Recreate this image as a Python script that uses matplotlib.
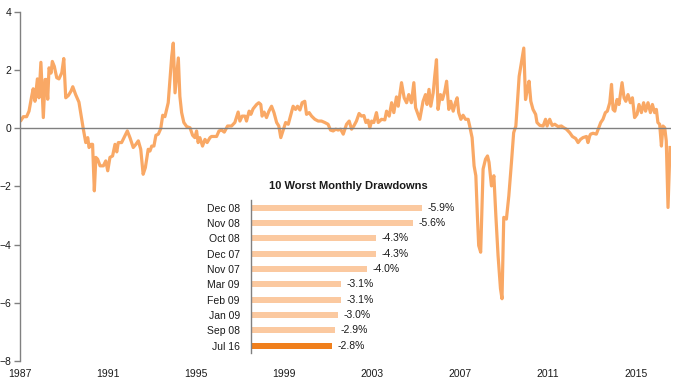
import matplotlib
matplotlib.use('Agg')
import matplotlib.pyplot as plt

plt.rcParams['font.family'] = ['Liberation Sans', 'DejaVu Sans']

# main series: decimal year, value
years = [
    1987.05, 1987.15, 1987.30, 1987.41, 1987.53, 1987.60, 1987.68, 1987.79, 1987.86, 1987.95,
    1988.06, 1988.14, 1988.20, 1988.26, 1988.32, 1988.41, 1988.47, 1988.56, 1988.67, 1988.77,
    1988.90, 1988.99, 1989.08, 1989.20, 1989.32, 1989.40, 1989.53, 1989.68, 1989.77, 1989.88,
    1989.99, 1990.08, 1990.14, 1990.23, 1990.30, 1990.38, 1990.45, 1990.53, 1990.64, 1990.79,
    1990.90, 1990.99, 1991.09, 1991.21, 1991.32, 1991.40, 1991.47, 1991.62, 1991.73, 1991.88,
    1992.00, 1992.15, 1992.27, 1992.38, 1992.49, 1992.60, 1992.70, 1992.83, 1992.91, 1992.99,
    1993.09, 1993.18, 1993.29, 1993.40, 1993.49, 1993.59, 1993.67, 1993.74, 1993.82, 1993.90,
    1993.97, 1994.05, 1994.12, 1994.20, 1994.27, 1994.35, 1994.45, 1994.58, 1994.73, 1994.85,
    1994.95, 1995.03, 1995.10, 1995.18, 1995.30, 1995.41, 1995.51, 1995.64, 1995.71, 1995.94,
    1996.05, 1996.17, 1996.29, 1996.44, 1996.62, 1996.77, 1996.92, 1997.00, 1997.10, 1997.23,
    1997.30, 1997.42, 1997.50, 1997.60, 1997.76, 1997.86, 1997.95, 1998.01, 1998.10, 1998.21,
    1998.32, 1998.44, 1998.55, 1998.67, 1998.77, 1998.86, 1998.97, 1999.08, 1999.20, 1999.32,
    1999.42, 1999.53, 1999.62, 1999.73, 1999.83, 1999.95, 2000.03, 2000.15, 2000.26, 2000.41,
    2000.56, 2000.71, 2000.86, 2001.01, 2001.12, 2001.24, 2001.36, 2001.47, 2001.58, 2001.70,
    2001.85, 2001.97, 2002.08, 2002.18, 2002.30, 2002.42, 2002.53, 2002.64, 2002.73, 2002.83,
    2002.91, 2002.99, 2003.09, 2003.21, 2003.29, 2003.44, 2003.59, 2003.67, 2003.79, 2003.90,
    2004.00, 2004.12, 2004.20, 2004.35, 2004.47, 2004.58, 2004.68, 2004.80, 2004.91, 2004.99,
    2005.10, 2005.18, 2005.33, 2005.44, 2005.51, 2005.60, 2005.68, 2005.79, 2005.86, 2005.94,
    2006.01, 2006.12, 2006.21, 2006.32, 2006.40, 2006.50, 2006.59, 2006.70, 2006.80, 2006.88,
    2006.95, 2007.05, 2007.15, 2007.26, 2007.38, 2007.45, 2007.56, 2007.65, 2007.73, 2007.80,
    2007.86, 2007.95, 2008.01, 2008.06, 2008.17, 2008.26, 2008.33, 2008.44, 2008.55, 2008.64,
    2008.74, 2008.85, 2008.92, 2009.00, 2009.12, 2009.23, 2009.35, 2009.45, 2009.55, 2009.60,
    2009.70, 2009.80, 2009.91, 2009.99, 2010.06, 2010.15, 2010.23, 2010.33, 2010.45, 2010.51,
    2010.64, 2010.79, 2010.90, 2010.97, 2011.09, 2011.20, 2011.32, 2011.47, 2011.62, 2011.73,
    2011.85, 2012.00, 2012.12, 2012.27, 2012.38, 2012.49, 2012.60, 2012.76, 2012.83, 2012.91,
    2012.95, 2013.06, 2013.21, 2013.32, 2013.41, 2013.51, 2013.62, 2013.71, 2013.82, 2013.90,
    2013.97, 2014.05, 2014.15, 2014.24, 2014.38, 2014.47, 2014.55, 2014.65, 2014.76, 2014.85,
    2014.95, 2015.06, 2015.15, 2015.26, 2015.36, 2015.45, 2015.56, 2015.67, 2015.76, 2015.86,
    2015.94, 2016.01, 2016.09, 2016.17, 2016.24, 2016.32, 2016.39, 2016.47, 2016.56,
]
values = [
    0.28, 0.40, 0.40, 0.59, 1.10, 1.36, 0.93, 1.70, 1.05, 2.27,
    0.37, 1.68, 1.68, 1.00, 2.08, 1.90, 2.30, 2.13, 1.74, 1.70,
    1.91, 2.40, 1.05, 1.13, 1.28, 1.43, 1.16, 0.90, 0.48, -0.03,
    -0.49, -0.32, -0.66, -0.55, -0.55, -2.15, -1.00, -1.06, -1.29, -1.29,
    -1.12, -1.46, -1.00, -0.95, -0.55, -0.81, -0.49, -0.49, -0.32, -0.09,
    -0.32, -0.66, -0.55, -0.43, -0.72, -1.58, -1.35, -0.72, -0.78, -0.61,
    -0.61, -0.24, -0.20, -0.01, 0.45, 0.40, 0.65, 0.88, 1.68, 2.48,
    2.93, 1.22, 1.79, 2.42, 1.10, 0.54, 0.20, 0.06, 0.02, -0.24,
    -0.32, -0.09, -0.49, -0.32, -0.61, -0.38, -0.49, -0.32, -0.28, -0.28,
    -0.09, -0.06, -0.13, 0.08, 0.08, 0.20, 0.56, 0.25, 0.42, 0.42,
    0.25, 0.59, 0.48, 0.67, 0.82, 0.88, 0.82, 0.42, 0.56, 0.37,
    0.59, 0.76, 0.54, 0.20, 0.08, -0.32, -0.06, 0.20, 0.14, 0.48,
    0.76, 0.65, 0.76, 0.63, 0.88, 0.93, 0.48, 0.54, 0.42, 0.31,
    0.25, 0.25, 0.20, 0.14, -0.06, -0.09, -0.03, -0.06, -0.03, -0.20,
    0.14, 0.25, -0.03, 0.08, 0.25, 0.51, 0.42, 0.44, 0.20, 0.28,
    0.02, 0.25, 0.20, 0.54, 0.20, 0.31, 0.29, 0.59, 0.42, 0.88,
    0.54, 1.08, 0.76, 1.57, 1.05, 0.88, 1.16, 0.88, 1.57, 0.71,
    0.48, 0.31, 0.93, 1.16, 0.82, 1.34, 0.76, 1.22, 1.79, 2.36,
    0.65, 1.16, 0.99, 1.28, 1.62, 0.65, 0.93, 0.59, 0.88, 1.05,
    0.54, 0.31, 0.45, 0.31, 0.31, 0.08, -0.32, -1.29, -1.63, -3.00,
    -4.03, -4.26, -2.66, -1.40, -1.06, -0.95, -1.17, -1.98, -1.63, -3.00,
    -4.37, -5.51, -5.86, -3.06, -3.12, -2.32, -1.17, -0.15, 0.08, 0.65,
    1.79, 2.25, 2.76, 0.99, 1.28, 1.62, 0.93, 0.65, 0.48, 0.20,
    0.10, 0.08, 0.31, 0.08, 0.31, 0.10, 0.14, 0.06, 0.08, 0.02,
    -0.03, -0.15, -0.28, -0.35, -0.49, -0.38, -0.32, -0.28, -0.49, -0.26,
    -0.20, -0.17, -0.20, 0.02, 0.20, 0.31, 0.54, 0.59, 0.88, 1.51,
    0.65, 0.59, 0.99, 0.82, 1.57, 1.05, 0.93, 1.16, 0.88, 1.05,
    0.37, 0.48, 0.82, 0.54, 0.88, 0.59, 0.88, 0.54, 0.82, 0.54,
    0.65, 0.20, 0.14, -0.61, 0.08, 0.02, -0.43, -2.72, -0.66,
]

year_ticks = [1987, 1991, 1995, 1999, 2003, 2007, 2011, 2015]

# inset: 10 worst monthly drawdowns
dd_labels = ['Dec 08', 'Nov 08', 'Oct 08', 'Dec 07', 'Nov 07',
             'Mar 09', 'Feb 09', 'Jan 09', 'Sep 08', 'Jul 16']
dd_values = [5.9, 5.6, 4.3, 4.3, 4.0, 3.1, 3.1, 3.0, 2.9, 2.8]

line_color = '#F9A865'
grey = '#808080'
text_color = '#1a1a1a'

fig = plt.figure(figsize=(6.83, 3.88), dpi=100)
ax = fig.add_axes([0.0293, 0.0696, 0.9536, 0.8995])

ax.plot(years, values, color=line_color, lw=2.3, solid_joinstyle='round')
ax.axhline(0, color=grey, lw=1)

ax.set_xlim(1987, 2016.62)
ax.set_ylim(-8, 4)
ax.set_yticks(range(-8, 5, 2))
ax.set_xticks(year_ticks)
ax.set_xticklabels([str(y) for y in year_ticks])

for s in ['top', 'right', 'bottom']:
    ax.spines[s].set_visible(False)
ax.spines['left'].set_color(grey)
ax.spines['left'].set_linewidth(1)
ax.tick_params(axis='y', length=4, width=1, color=grey, labelsize=7.5,
               labelcolor=text_color, pad=2)
ax.tick_params(axis='x', length=0, labelsize=7.5, labelcolor=text_color, pad=6)

# inset bar chart
ins = fig.add_axes([0.3675, 0.0892, 0.28, 0.3954])
pos = list(range(len(dd_labels)))
colors = ['#FBC9A0'] * (len(dd_labels) - 1) + ['#F07F1C']
ins.barh(pos, dd_values, height=0.4, color=colors)
ins.set_ylim(len(dd_labels) - 0.5, -0.5)
ins.set_xlim(0, 6.6)
ins.set_yticks(pos)
ins.set_yticklabels(dd_labels)
ins.set_xticks([])
for s in ['top', 'right', 'bottom']:
    ins.spines[s].set_visible(False)
ins.spines['left'].set_color(grey)
ins.spines['left'].set_linewidth(1)
ins.tick_params(axis='y', length=0, labelsize=7.5, labelcolor=text_color, pad=8)
ins.patch.set_alpha(0)
for p, v in zip(pos, dd_values):
    ins.annotate('-%.1f%%' % v, (v, p), xytext=(4, 0), textcoords='offset points',
                 va='center', ha='left', fontsize=7.5, color=text_color)
ins.set_title('10 Worst Monthly Drawdowns', fontsize=8, fontweight='bold',
              color=text_color, pad=8, x=0.51)

fig.savefig('out.png', dpi=100)
